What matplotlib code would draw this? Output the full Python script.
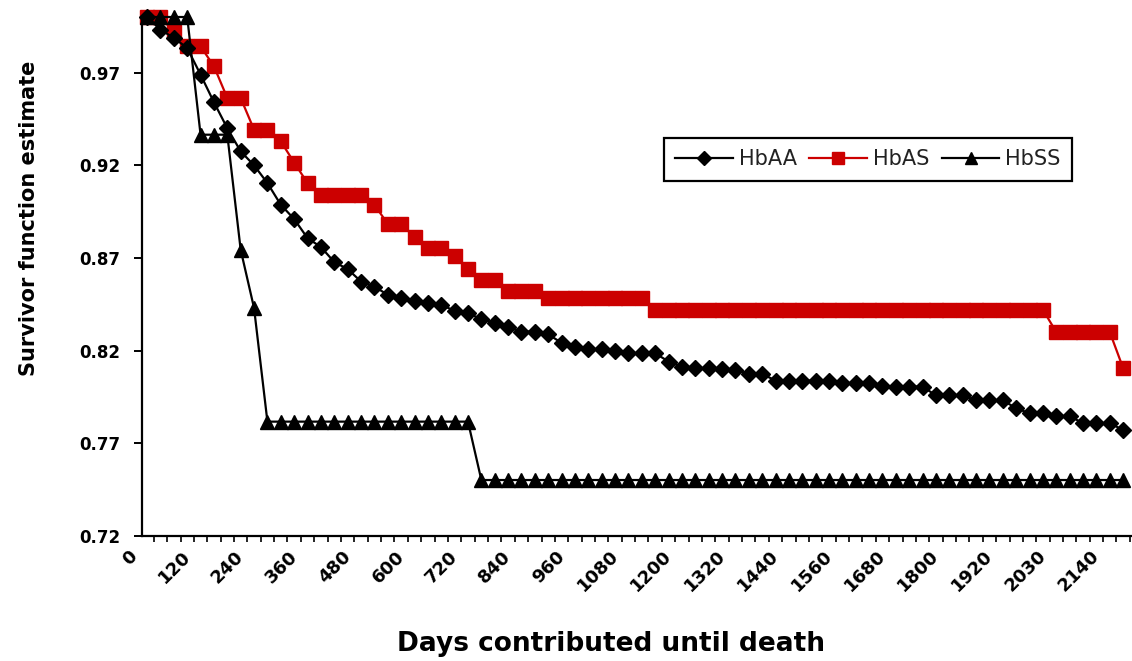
import matplotlib
matplotlib.use('Agg')
import matplotlib.pyplot as plt
import numpy as np
from matplotlib.transforms import ScaledTranslation

# survivor function estimates, one value per 30-day category
hbaa = [1.0, 0.9932, 0.9887, 0.9833, 0.9689, 0.954, 0.940, 0.9275, 0.920, 0.9104,
        0.8987, 0.891, 0.8807, 0.8759, 0.8678, 0.864, 0.8573, 0.8546, 0.8501, 0.8483,
        0.847, 0.8456, 0.8447, 0.8415, 0.8402, 0.837, 0.8351, 0.8327, 0.8303, 0.8303,
        0.8288, 0.8242, 0.8222, 0.8208, 0.8208, 0.8199, 0.8187, 0.8187, 0.8186, 0.8141,
        0.8114, 0.8105, 0.8105, 0.810, 0.8096, 0.8075, 0.8075, 0.8038, 0.8038, 0.8038,
        0.8038, 0.8038, 0.8024, 0.8024, 0.8024, 0.801, 0.8006, 0.8006, 0.8006, 0.7958,
        0.7958, 0.7958, 0.7932, 0.7932, 0.7932, 0.7889, 0.7862, 0.7862, 0.7847, 0.7847,
        0.7808, 0.7808, 0.7808, 0.7772]
hbas = [1.0, 1.0, 0.992, 0.9842, 0.9842, 0.9734, 0.9563, 0.9563, 0.9392, 0.9392,
        0.9329, 0.9215, 0.9104, 0.9041, 0.9041, 0.9041, 0.9041, 0.8987, 0.8884, 0.8884,
        0.8813, 0.8753, 0.8753, 0.8712, 0.864, 0.8582, 0.8582, 0.8524, 0.8524, 0.8524,
        0.8483, 0.8483, 0.8483, 0.8483, 0.8483, 0.8483, 0.8483, 0.8483, 0.842, 0.842,
        0.842, 0.842, 0.842, 0.842, 0.842, 0.842, 0.842, 0.842, 0.842, 0.842,
        0.842, 0.842, 0.842, 0.842, 0.842, 0.842, 0.842, 0.842, 0.842, 0.842,
        0.842, 0.842, 0.842, 0.842, 0.842, 0.842, 0.842, 0.842, 0.830, 0.830,
        0.830, 0.830, 0.830, 0.8105]
hbss = [1.0, 1.0, 1.0, 1.0, 0.9365, 0.9365, 0.9365, 0.8744, 0.843, 0.7817,
        0.7817, 0.7817, 0.7817, 0.7817, 0.7817, 0.7817, 0.7817, 0.7817, 0.7817, 0.7817,
        0.7817, 0.7817, 0.7817, 0.7817, 0.7817] + [0.7502] * 49

tick_labels = ['0', '120', '240', '360', '480', '600', '720', '840', '960', '1080',
               '1200', '1320', '1440', '1560', '1680', '1800', '1920', '2030', '2140']
y_ticks = [0.72, 0.77, 0.82, 0.87, 0.92, 0.97]

plt.rcParams['font.family'] = 'DejaVu Sans'

x = np.arange(len(hbaa))

fig = plt.figure(figsize=(11.32, 6.61), dpi=100)
ax = fig.add_axes([142 / 1132, 1 - 536 / 661, (1132 - 142) / 1132, (536 - 17) / 661])

l_as, = ax.plot(x, hbas, color='#CC0000', lw=1.6, marker='s', ms=9.5,
                mec='#CC0000', mfc='#CC0000', zorder=2, clip_on=False)
l_aa, = ax.plot(x, hbaa, color='black', lw=1.6, marker='D', ms=7.8,
                mec='black', mfc='black', zorder=3, clip_on=False)
l_ss, = ax.plot(x, hbss, color='black', lw=1.6, marker='^', ms=9.5,
                mec='black', mfc='black', zorder=4, clip_on=False)

ax.set_xlim(-0.38, 73.66)
ax.set_ylim(0.72, 1.0)

ax.spines['top'].set_visible(False)
ax.spines['right'].set_visible(False)
ax.spines['left'].set_linewidth(1.6)
ax.spines['bottom'].set_linewidth(1.6)

ax.set_yticks(y_ticks)
ax.set_yticklabels(['%.2f' % v for v in y_ticks], fontsize=12, fontweight='bold')
ax.tick_params(axis='y', direction='out', length=5.5, width=1.4, pad=10)

ax.set_xticks(np.arange(0, 4 * len(tick_labels), 4))
ax.set_xticklabels(tick_labels, fontsize=13, fontweight='bold', rotation=45,
                   ha='right', va='top', rotation_mode='anchor')
ax.set_xticks(np.arange(len(hbaa)) + 0.5, minor=True)
ax.tick_params(axis='x', which='major', length=0, pad=8)
ax.tick_params(axis='x', which='minor', direction='out', length=4.5, width=1.2)
for lab in ax.get_xticklabels():
    lab.set_transform(lab.get_transform() + ScaledTranslation(-14 / 72, 0, fig.dpi_scale_trans))

fig.text(29.5 / 1132, 1 - 218.5 / 661, 'Survivor function estimate', rotation=90,
         ha='center', va='center', fontsize=15, fontweight='bold')
fig.text(611 / 1132, 1 - 651 / 661, 'Days contributed until death',
         ha='center', va='baseline', fontsize=19, fontweight='bold')

leg = ax.legend([l_aa, l_as, l_ss], ['HbAA', 'HbAS', 'HbSS'], ncol=3,
                loc='upper left', bbox_to_anchor=(664 / 1132, 1 - 138 / 661),
                bbox_transform=fig.transFigure, borderaxespad=0,
                fontsize=15, handlelength=2.75, handletextpad=0.3, columnspacing=0.6,
                fancybox=False, framealpha=1, edgecolor='black', borderpad=0.55,
                markerscale=0.85)
leg.get_frame().set_linewidth(1.6)
for t in leg.get_texts():
    t.set_color('#222222')

fig.savefig('out.png', dpi=100)
